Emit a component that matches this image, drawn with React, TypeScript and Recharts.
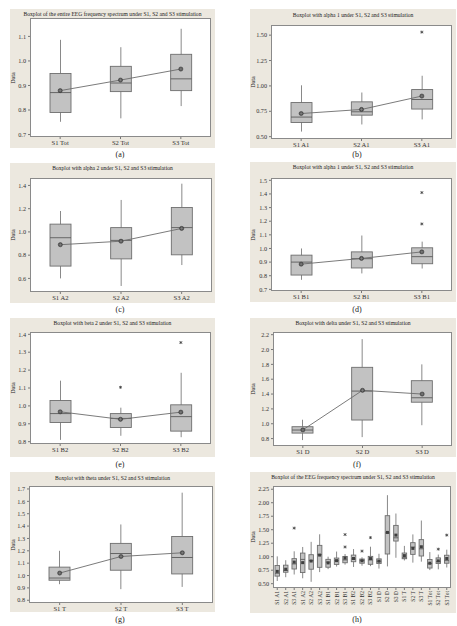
import React from "react";
import { ComposedChart, Bar, Line, XAxis, YAxis } from "recharts";

const FONT = '"Liberation Serif", "Times New Roman", serif';

// each stats row: [min, Q1, median, Q3, max, mean]
const CATS_TOT = ["S1 Tot", "S2 Tot", "S3 Tot"];
const STATS_TOT = [
  [0.752, 0.79, 0.871, 0.949, 1.086, 0.879],
  [0.766, 0.875, 0.91, 0.978, 1.056, 0.922],
  [0.816, 0.879, 0.927, 1.027, 1.131, 0.967],
];
const OUT_TOT: number[][] = [[], [], []];

const CATS_A1 = ["S1 A1", "S2 A1", "S3 A1"];
const STATS_A1 = [
  [0.55, 0.64, 0.693, 0.836, 1.006, 0.728],
  [0.62, 0.712, 0.745, 0.843, 0.935, 0.768],
  [0.67, 0.772, 0.866, 0.964, 1.1, 0.9],
];
const OUT_A1 = [[], [], [1.53]];

const CATS_A2 = ["S1 A2", "S2 A2", "S3 A2"];
const STATS_A2 = [
  [0.6, 0.706, 0.95, 1.067, 1.18, 0.89],
  [0.535, 0.768, 0.927, 1.037, 1.275, 0.92],
  [0.715, 0.803, 1.037, 1.21, 1.415, 1.03],
];
const OUT_A2: number[][] = [[], [], []];

const CATS_B1 = ["S1 B1", "S2 B1", "S3 B1"];
const STATS_B1 = [
  [0.77, 0.805, 0.9, 0.951, 1.0, 0.885],
  [0.817, 0.857, 0.925, 0.975, 1.095, 0.927],
  [0.853, 0.888, 0.94, 1.005, 1.05, 0.975],
];
const OUT_B1 = [[], [], [1.41, 1.18]];

const CATS_B2 = ["S1 B2", "S2 B2", "S3 B2"];
const STATS_B2 = [
  [0.81, 0.907, 0.957, 1.03, 1.141, 0.967],
  [0.833, 0.879, 0.93, 0.957, 0.99, 0.925],
  [0.825, 0.859, 0.94, 1.006, 1.185, 0.965],
];
const OUT_B2 = [[], [1.104], [1.354]];

const CATS_D = ["S1 D", "S2 D", "S3 D"];
const STATS_D = [
  [0.78, 0.874, 0.915, 0.96, 1.054, 0.917],
  [0.82, 1.05, 1.44, 1.76, 2.14, 1.45],
  [0.98, 1.29, 1.35, 1.58, 1.8, 1.4],
];
const OUT_D: number[][] = [[], [], []];

const CATS_T = ["S1 T", "S2 T", "S3 T"];
const STATS_T = [
  [0.93, 0.962, 0.98, 1.068, 1.2, 1.02],
  [0.89, 1.043, 1.178, 1.26, 1.413, 1.154],
  [0.908, 1.013, 1.146, 1.316, 1.67, 1.184],
];
const OUT_T: number[][] = [[], [], []];

// the Tot group as it appears in the combined plot (h)
const STATS_TOT_ALL = [
  [0.752, 0.79, 0.871, 0.949, 1.086, 0.879],
  [0.766, 0.875, 0.91, 0.978, 1.04, 0.922],
  [0.8, 0.879, 0.927, 1.027, 1.13, 0.967],
];
const OUT_TOT_ALL = [[], [1.14], [1.4]];

const TICKS_TOT = [0.7, 0.8, 0.9, 1.0, 1.1];
const TICKS_A1 = [0.5, 0.75, 1.0, 1.25, 1.5];
const TICKS_A2 = [0.5, 0.6, 0.7, 0.8, 0.9, 1.0, 1.1, 1.2, 1.3, 1.4];
const TICKS_B1 = [0.7, 0.8, 0.9, 1.0, 1.1, 1.2, 1.3, 1.4, 1.5];
const TICKS_B2 = [0.8, 0.9, 1.0, 1.1, 1.2, 1.3, 1.4];
const TICKS_D = [0.8, 1.0, 1.2, 1.4, 1.6, 1.8, 2.0, 2.2];
const TICKS_T = [0.8, 0.9, 1.0, 1.1, 1.2, 1.3, 1.4, 1.5, 1.6, 1.7];
const TICKS_ALL = [0.5, 0.75, 1.0, 1.25, 1.5, 1.75, 2.0, 2.25];

function buildRows(cats: string[], stats: number[][], outs: number[][]) {
  return cats.map((name, i) => {
    const [min, q1, med, q3, max, mean] = stats[i];
    return {
      name,
      range: [min, max],
      min,
      q1,
      med,
      q3,
      max,
      mean,
      out1: outs[i][0] ?? null,
      out2: outs[i][1] ?? null,
    };
  });
}

const ALL_ROWS = [
  ...buildRows(CATS_A1, STATS_A1, OUT_A1),
  ...buildRows(CATS_A2, STATS_A2, OUT_A2),
  ...buildRows(CATS_B1, STATS_B1, OUT_B1),
  ...buildRows(CATS_B2, STATS_B2, OUT_B2),
  ...buildRows(CATS_D, STATS_D, OUT_D),
  ...buildRows(CATS_T, STATS_T, OUT_T),
  ...buildRows(CATS_TOT, STATS_TOT_ALL, OUT_TOT_ALL),
];

const PANELS = [
  {
    id: "a",
    title: "Boxplot of the entire EEG frequency spectrum under S1, S2 and S3 stimulation",
    rows: buildRows(CATS_TOT, STATS_TOT, OUT_TOT),
    ticks: TICKS_TOT, domain: [0.69, 1.175], dec: 1,
    bg: { x: 10, y: 9, w: 205, h: 139 }, plot: { l: 30, t: 18, r: 211, b: 137 }, titleY: 14,
  },
  {
    id: "b",
    title: "Boxplot with alpha 1 under S1, S2 and S3 stimulation",
    rows: buildRows(CATS_A1, STATS_A1, OUT_A1),
    ticks: TICKS_A1, domain: [0.477, 1.6], dec: 2,
    bg: { x: 250, y: 9, w: 206, h: 139 }, plot: { l: 271, t: 25, r: 452, b: 139 }, titleY: 15,
  },
  {
    id: "c",
    title: "Boxplot with alpha 2 under S1, S2 and S3 stimulation",
    rows: buildRows(CATS_A2, STATS_A2, OUT_A2),
    ticks: TICKS_A2, domain: [0.483, 1.464], dec: 1,
    bg: { x: 10, y: 163, w: 205, h: 140 }, plot: { l: 30, t: 178, r: 212, b: 292 }, titleY: 168,
  },
  {
    id: "d",
    title: "Boxplot with alpha 1 under S1, S2 and S3 stimulation",
    rows: buildRows(CATS_B1, STATS_B1, OUT_B1),
    ticks: TICKS_B1, domain: [0.688, 1.517], dec: 1,
    bg: { x: 250, y: 162, w: 206, h: 140 }, plot: { l: 271, t: 178, r: 452, b: 291 }, titleY: 167,
  },
  {
    id: "e",
    title: "Boxplot with beta 2 under S1, S2 and S3 stimulation",
    rows: buildRows(CATS_B2, STATS_B2, OUT_B2),
    ticks: TICKS_B2, domain: [0.787, 1.413], dec: 1,
    bg: { x: 10, y: 318, w: 205, h: 139 }, plot: { l: 30, t: 332, r: 211, b: 444 }, titleY: 323,
  },
  {
    id: "f",
    title: "Boxplot with delta under S1, S2 and S3 stimulation",
    rows: buildRows(CATS_D, STATS_D, OUT_D),
    ticks: TICKS_D, domain: [0.7, 2.236], dec: 1,
    bg: { x: 250, y: 318, w: 206, h: 139 }, plot: { l: 273, t: 332, r: 452, b: 446 }, titleY: 323,
  },
  {
    id: "g",
    title: "Boxplot with theta under S1, S2 and S3 stimulation",
    rows: buildRows(CATS_T, STATS_T, OUT_T),
    ticks: TICKS_T, domain: [0.778, 1.724], dec: 1,
    bg: { x: 10, y: 472, w: 205, h: 140 }, plot: { l: 29, t: 486, r: 213, b: 603 }, titleY: 478,
  },
  {
    id: "h",
    title: "Boxplot of the EEG frequency spectrum under S1, S2 and S3 stimulation",
    rows: ALL_ROWS,
    ticks: TICKS_ALL, domain: [0.42, 2.31], dec: 2,
    bg: { x: 250, y: 472, w: 206, h: 141 }, plot: { l: 273, t: 486, r: 451, b: 588 }, titleY: 477,
  },
];

const CAPTIONS = [
  { text: "(a)", x: 120, y: 155 },
  { text: "(b)", x: 357, y: 155 },
  { text: "(c)", x: 120, y: 310 },
  { text: "(d)", x: 357, y: 310 },
  { text: "(e)", x: 120, y: 465 },
  { text: "(f)", x: 357, y: 465 },
  { text: "(g)", x: 120, y: 620 },
  { text: "(h)", x: 357, y: 620 },
];

function BoxShape(props: any) {
  const { x, y, width, height, payload } = props;
  if (!payload || x == null) return <g />;
  const top = Math.min(y, y + height);
  const bot = Math.max(y, y + height);
  const span = payload.max - payload.min;
  const py = (v: number) => bot - ((v - payload.min) / span) * (bot - top);
  const cx = x + width / 2;
  return (
    <g>
      <line x1={cx} x2={cx} y1={top} y2={bot} stroke="#7c7c7c" strokeWidth={0.9} />
      <rect
        x={x}
        y={py(payload.q3)}
        width={width}
        height={py(payload.q1) - py(payload.q3)}
        fill="#c2c2c2"
        stroke="#6e6e6e"
        strokeWidth={0.9}
      />
      <line x1={x} x2={x + width} y1={py(payload.med)} y2={py(payload.med)} stroke="#5a5a5a" strokeWidth={0.9} />
    </g>
  );
}

function makeMeanDot(small: boolean) {
  return (props: any) => {
    const { cx, cy, index } = props;
    if (cx == null || cy == null || Number.isNaN(cy)) return <g key={`m-${index}`} />;
    if (small) {
      return <rect key={`m-${index}`} x={cx - 1.5} y={cy - 1.5} width={3} height={3} fill="#3f3f3f" />;
    }
    return (
      <g key={`m-${index}`}>
        <circle cx={cx} cy={cy} r={2.1} fill="#555" stroke="#333" strokeWidth={0.5} />
        <path d={`M${cx - 1.4},${cy}H${cx + 1.4}M${cx},${cy - 1.4}V${cy + 1.4}`} stroke="#999" strokeWidth={0.45} />
      </g>
    );
  };
}

function OutlierDot(props: any) {
  const { cx, cy, index } = props;
  if (cx == null || cy == null || Number.isNaN(cy)) return <g key={`o-${index}`} />;
  const s = 1.5;
  return (
    <g key={`o-${index}`} stroke="#333" strokeWidth={0.7}>
      <line x1={cx} x2={cx} y1={cy - s} y2={cy + s} />
      <line x1={cx - s} x2={cx + s} y1={cy - s * 0.6} y2={cy + s * 0.6} />
      <line x1={cx - s} x2={cx + s} y1={cy + s * 0.6} y2={cy - s * 0.6} />
    </g>
  );
}

function RotatedTick(props: any) {
  const { x, y, payload } = props;
  return (
    <g transform={`translate(${x},${y})`}>
      <text transform="rotate(-90)" x={0} y={0} dy="0.35em" textAnchor="end" fontSize={5.6} fill="#333" fontFamily={FONT}>
        {payload.value}
      </text>
    </g>
  );
}

function BoxPanel({ p }: { p: (typeof PANELS)[number] }) {
  const { bg, plot } = p;
  const many = p.id === "h";
  const pw = plot.r - plot.l;
  const ph = plot.b - plot.t;
  return (
    <>
      <div style={{ position: "absolute", left: bg.x, top: bg.y, width: bg.w, height: bg.h, background: "#ece8df" }} />
      <div
        style={{
          position: "absolute",
          left: plot.l,
          top: plot.t,
          width: pw,
          height: ph,
          background: "#fff",
          border: "1px solid #8a8a8a",
          boxSizing: "border-box",
        }}
      />
      <div
        style={{
          position: "absolute",
          left: bg.x,
          width: bg.w,
          top: p.titleY - 4,
          fontSize: 5.6,
          lineHeight: "8px",
          textAlign: "center",
          color: "#222",
          whiteSpace: "nowrap",
        }}
      >
        {p.title}
      </div>
      <div
        style={{
          position: "absolute",
          left: bg.x + 3 - 10,
          top: (plot.t + plot.b) / 2 - 4,
          width: 20,
          height: 8,
          fontSize: 6.2,
          lineHeight: "8px",
          textAlign: "center",
          transform: "rotate(-90deg)",
          color: "#222",
        }}
      >
        Data
      </div>
      <div style={{ position: "absolute", left: bg.x, top: bg.y }}>
        <ComposedChart
          width={bg.w}
          height={bg.h}
          data={p.rows}
          margin={{ top: plot.t - bg.y, right: bg.x + bg.w - plot.r, bottom: 0, left: 0 }}
        >
          <XAxis
            dataKey="name"
            type="category"
            interval={0}
            height={bg.y + bg.h - plot.b}
            axisLine={false}
            tickLine={{ stroke: "#777" }}
            tickSize={2}
            tickMargin={1}
            tick={many ? <RotatedTick /> : { fontSize: 6.6, fill: "#333", fontFamily: FONT }}
          />
          <YAxis
            type="number"
            domain={p.domain as [number, number]}
            ticks={p.ticks}
            allowDataOverflow
            width={plot.l - bg.x}
            axisLine={false}
            tickLine={{ stroke: "#777" }}
            tickSize={2}
            tickMargin={2}
            tickFormatter={(v: number) => v.toFixed(p.dec)}
            tick={{ fontSize: 6.2, fill: "#333", fontFamily: FONT }}
          />
          <Bar dataKey="range" barSize={many ? 4.5 : 21} shape={<BoxShape />} isAnimationActive={false} />
          <Line
            dataKey="mean"
            type="linear"
            stroke={many ? "none" : "#6c6c6c"}
            strokeWidth={0.9}
            dot={makeMeanDot(many)}
            activeDot={false}
            isAnimationActive={false}
          />
          <Line dataKey="out1" stroke="none" dot={OutlierDot} activeDot={false} isAnimationActive={false} />
          <Line dataKey="out2" stroke="none" dot={OutlierDot} activeDot={false} isAnimationActive={false} />
        </ComposedChart>
      </div>
    </>
  );
}

export default function App() {
  return (
    <div
      style={{
        position: "absolute",
        left: 0,
        top: 0,
        width: 457,
        height: 626,
        background: "#fff",
        fontFamily: FONT,
        overflow: "hidden",
      }}
    >
      {PANELS.map((p) => (
        <BoxPanel key={p.id} p={p} />
      ))}
      {CAPTIONS.map((c) => (
        <div
          key={c.text}
          style={{
            position: "absolute",
            left: c.x - 15,
            top: c.y - 5,
            width: 30,
            textAlign: "center",
            fontSize: 8,
            lineHeight: "10px",
            color: "#222",
          }}
        >
          {c.text}
        </div>
      ))}
    </div>
  );
}
